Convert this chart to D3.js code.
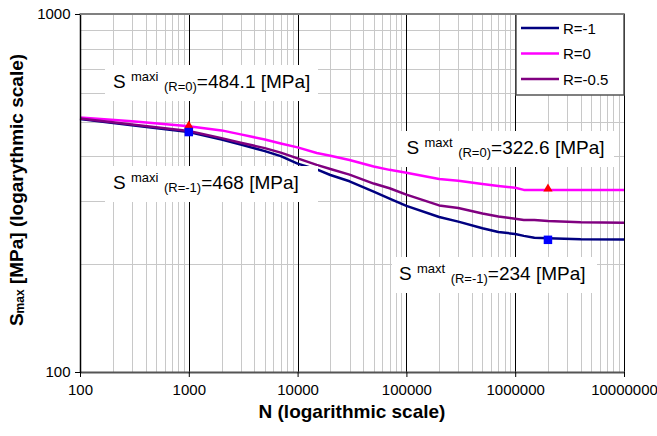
<!DOCTYPE html>
<html><head><meta charset="utf-8">
<script src="https://cdn.jsdelivr.net/npm/d3@7"></script>
<style>
body{margin:0;background:#fff}
svg{display:block}
text{font-family:"Liberation Sans",Arial,Helvetica,sans-serif}
</style>
</head><body>
<svg id="chart" width="657" height="436"></svg>
<script>
// ---- data ----
const cycles = [100,300,1000,2000,3000,5000,7000,10000,15000,20000,30000,50000,70000,100000,200000,300000,500000,700000,1000000,1200000,1500000,2000000,4000000,10000000];
const sRminus1  = [509,489,468,446,432,414,401,382,368,355,341,319,305,291,271,263,252,246,243,240,237,236.5,235,234.5];
const sR0       = [514,502,486,473,461,446,435,424,409,402,391,375,367,360,346,342,335,331,327,322.6,322.6,322.6,322.6,322.6];
const sRminus05 = [511,491,471,450,437,422,410,395,379,369,356,336,326,313,292,287,277,272,268,266,266,264,262,261];
const seriesNames = ["R=-1","R=0","R=-0.5"];
const seriesColors = ["#000080","#FF00FF","#800080"];
const xTickValues = [100,1000,10000,100000,1000000,10000000];
const xTickLabels = ["100","1000","10000","100000","1000000","10000000"];
const yTickValues = [100,1000];
const yTickLabels = ["100","1000"];
const triangleN = [1000,2000000];
const triangleS = [484.1,322.6];
const squareN = [1000,2000000];
const squareS = [468,234];
const annSup = ["maxi","maxi","maxt","maxt"];
const annSub = ["(R=0)","(R=-1)","(R=0)","(R=-1)"];
const annVal = ["=484.1 [MPa]","=468 [MPa]","=322.6 [MPa]","=234 [MPa]"];
const xTitle = "N (logarithmic scale)";
const yTitleMain = "S";
const yTitleSub = "max";
const yTitleRest = " [MPa] (logarythmic scale)";

// ---- layout ----
const L = 80, R = 624, T = 14, B = 372;
const annLayout = [ // [textX, baseline, boxLeft, boxRight]
  [113, 88, 105, 318],
  [113, 189, 105, 318],
  [406.5, 154, 397, 614],
  [399, 280, 392, 597]
];

const svg = d3.select("#chart");
const x = d3.scaleLog().domain([100,10000000]).range([L,R]);
const y = d3.scaleLog().domain([100,1000]).range([B,T]);
const px = v => Math.round(v) + 0.5;

// grid
const grid = svg.append("g");
const minorX = [];
for (let d = 100; d < 10000000; d *= 10) for (let k = 2; k <= 9; k++) minorX.push(d*k);
grid.selectAll("line.mx").data(minorX).join("line")
  .attr("x1", d=>px(x(d))).attr("x2", d=>px(x(d))).attr("y1", T).attr("y2", B)
  .attr("stroke", "#c8c8c8").attr("stroke-width", 1);
const minorY = [200,300,400,500,600,700,800,900];
grid.selectAll("line.my").data(minorY).join("line")
  .attr("y1", d=>px(y(d))).attr("y2", d=>px(y(d))).attr("x1", L).attr("x2", R)
  .attr("stroke", "#c8c8c8").attr("stroke-width", 1);
const majorX = [1000,10000,100000,1000000,10000000];
grid.selectAll("line.Mx").data(majorX).join("line")
  .attr("x1", d=>px(x(d))).attr("x2", d=>px(x(d))).attr("y1", T).attr("y2", B)
  .attr("stroke", "#000").attr("stroke-width", 1);

// series
const seriesData = [sRminus1, sR0, sRminus05];
const line = d3.line().x(d=>x(d[0])).y(d=>y(d[1]));
seriesData.forEach((s,i)=>{
  svg.append("path").datum(cycles.map((n,j)=>[n,s[j]]))
    .attr("d", line).attr("fill","none").attr("stroke", seriesColors[i])
    .attr("stroke-width", 2.5).attr("stroke-linejoin","round");
});

// markers
svg.selectAll("path.tri").data(triangleN.map((n,i)=>[n,triangleS[i]])).join("path")
  .attr("d", d3.symbol(d3.symbolTriangle, 38)())
  .attr("transform", d=>`translate(${x(d[0])},${y(d[1])-1})`).attr("fill","#FF0000");
svg.selectAll("path.sq").data(squareN.map((n,i)=>[n,squareS[i]])).join("path")
  .attr("d", d3.symbol(d3.symbolSquare, 72)())
  .attr("transform", d=>`translate(${x(d[0])},${y(d[1])})`).attr("fill","#0000FF");

// annotations
annVal.forEach((v,i)=>{
  const [tx, by, bl, br] = annLayout[i];
  const g = svg.append("g");
  g.append("rect").attr("x", bl).attr("y", by-23).attr("width", br-bl).attr("height", 36).attr("fill","#fff");
  const t = g.append("text").attr("x", tx).attr("y", by).attr("font-size", 19).attr("fill","#000");
  t.append("tspan").text("S");
  t.append("tspan").attr("dx", 5.3).attr("dy", -6.7).attr("font-size", 13).text(annSup[i]);
  t.append("tspan").attr("dx", 5.5).attr("dy", 9.7).attr("font-size", 13).text(annSub[i]);
  t.append("tspan").attr("dy", -3).attr("font-size", 19).text(v);
});

// frame
svg.append("line").attr("x1", L).attr("x2", R).attr("y1", T).attr("y2", T).attr("stroke","#808080").attr("stroke-width",2);
svg.append("line").attr("x1", L).attr("x2", R+1).attr("y1", B+0.5).attr("y2", B+0.5).attr("stroke","#555").attr("stroke-width",2);
svg.append("line").attr("x1", L+0.5).attr("x2", L+0.5).attr("y1", T-1).attr("y2", B+1).attr("stroke","#000").attr("stroke-width",1.5);

// axes
const xAxis = svg.append("g").attr("transform", `translate(0,${B})`)
  .call(d3.axisBottom(x).tickValues(xTickValues).tickFormat((d,i)=>xTickLabels[i]).tickSize(5).tickPadding(7));
const yAxis = svg.append("g").attr("transform", `translate(${L},0)`)
  .call(d3.axisLeft(y).tickValues(yTickValues).tickFormat((d,i)=>yTickLabels[i]).tickSize(5).tickPadding(4.5));
[xAxis,yAxis].forEach(a=>{
  a.select(".domain").remove();
  a.selectAll("text").attr("font-size",15).attr("font-family",'"Liberation Sans",Arial,sans-serif').attr("fill","#000");
  a.selectAll("line").attr("stroke","#000");
});

// titles
svg.append("text").attr("x", (L+R)/2).attr("y", 418).attr("text-anchor","middle")
  .attr("font-size",19).attr("font-weight","bold").text(xTitle);
const yt = svg.append("text").attr("transform","translate(23,190) rotate(-90)").attr("text-anchor","middle")
  .attr("font-size",19).attr("font-weight","bold");
yt.append("tspan").text(yTitleMain);
yt.append("tspan").attr("font-size",12).attr("dy",1).text(yTitleSub);
yt.append("tspan").attr("dy",-1).text(yTitleRest);

// legend
const lg = svg.append("g");
lg.append("rect").attr("x", 516).attr("y", T).attr("width", R-516).attr("height", 81)
  .attr("fill","#fff").attr("stroke","#555").attr("stroke-width",1.5);
seriesNames.forEach((n,i)=>{
  const cy = 28 + i*25.5;
  lg.append("line").attr("x1", 521).attr("x2", 559).attr("y1", cy).attr("y2", cy)
    .attr("stroke", seriesColors[i]).attr("stroke-width", 2.5);
  lg.append("text").attr("x", 563).attr("y", cy+5.5).attr("font-size",15).text(n);
});
// redraw plot top border over legend
svg.append("line").attr("x1", L).attr("x2", R).attr("y1", T).attr("y2", T).attr("stroke","#808080").attr("stroke-width",2);
</script>
</body></html>
